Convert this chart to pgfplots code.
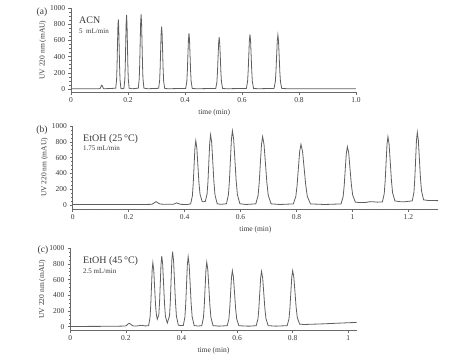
\documentclass[border=0pt]{standalone}
\usepackage{fontspec}
\setmainfont{Liberation Serif}
\usepackage{pgfplots}
\pgfplotsset{compat=1.18}
\definecolor{trace}{RGB}{95,95,95}
\definecolor{axc}{RGB}{105,105,105}
\definecolor{txt}{RGB}{55,55,55}
\pgfplotsset{chrom/.style={
  scale only axis, anchor=south west,
  axis lines=left, axis line style={-, axc, line width=0.7pt},
  tick style={axc, line width=0.5pt},
  tick align=outside, major tick length=2.8pt, minor tick length=1.5pt,
  minor y tick num=3,
  ytick={0,200,400,600,800,1000},
  /pgf/number format/assume math mode=true,
  /pgf/number format/set thousands separator={},
  ticklabel style={font=\fontsize{7.5}{8}\selectfont, text=txt},
  yticklabel style={xshift=0.5pt},
  xticklabel style={yshift=0.5pt},
  xlabel={time (min)}, ylabel={UV 220 nm (mAU)},
  label style={font=\fontsize{7.5}{9}\selectfont, text=txt},
  xlabel style={yshift=0.5pt},
  ylabel style={yshift=-3pt},
}}
\begin{document}
\begin{tikzpicture}[x=1pt,y=1pt]
\useasboundingbox (0,0) rectangle (474,358);
% ---------- (a)
\begin{axis}[chrom, at={(71pt,266pt)}, width=286.4pt, height=84pt,
  xmin=0, xmax=1.005, ymin=-37, ymax=1000,
  xtick={0,0.2,0.4,0.6,0.8,1.0}, xticklabels={0,0.2,0.4,0.6,0.8,1.0},
  minor xtick={0.05,0.1,...,1.0}]
\addplot[trace, line width=0.8pt, mark=none] coordinates {
(0,3)(0.05,3)(0.099,3)
(0.102,6.5)(0.1035,15.6)(0.105,29.1)(0.1065,42.4)(0.108,48)(0.1095,42.4)(0.111,29.1)(0.1125,15.6)(0.114,6.5)(0.117,3)
(0.157,9.5)(0.160,116)(0.1615,279)(0.163,522)(0.1645,759)(0.166,860)(0.1675,759)(0.169,522)(0.1705,279)(0.172,116)(0.175,9.5)
(0.18,3)
(0.186,10)(0.189,124)(0.1905,297)(0.192,555)(0.1935,807)(0.195,915)(0.1965,807)(0.198,555)(0.1995,297)(0.201,124)(0.204,10)
(0.215,3)
(0.2361,10)(0.2394,125)(0.24105,299)(0.2427,559)(0.24435,814)(0.246,922)(0.24765,814)(0.2493,559)(0.25095,299)(0.2526,125)(0.2559,10)
(0.27,3)
(0.3075,8.5)(0.311,104)(0.31275,250)(0.3145,467)(0.31625,680)(0.318,770)(0.31975,680)(0.3215,467)(0.32325,250)(0.325,104)(0.3285,8.5)
(0.34,3)
(0.4026,7.6)(0.4064,93)(0.4083,223)(0.4102,417)(0.4121,607)(0.414,688)(0.4159,607)(0.4178,417)(0.4197,223)(0.4216,93)(0.4254,7.6)
(0.44,3)
(0.508,7)(0.512,87)(0.514,208)(0.516,388)(0.518,565)(0.520,640)(0.522,565)(0.524,388)(0.526,208)(0.528,87)(0.532,7)
(0.545,3)
(0.6154,7.5)(0.6196,91)(0.6217,219)(0.6238,409)(0.6259,596)(0.628,675)(0.6301,596)(0.6322,409)(0.6343,219)(0.6364,91)(0.6406,7.5)
(0.655,3)
(0.7125,7.4)(0.717,90)(0.71925,216.5)(0.7215,404.5)(0.72375,589)(0.726,667)(0.72825,589)(0.7305,404.5)(0.73275,216.5)(0.735,90)(0.7395,7.4)
(0.76,3)(1.0,3)
};
\end{axis}
% ---------- (b)
\begin{axis}[chrom, at={(72.7pt,149pt)}, width=365.3pt, height=83pt,
  xmin=0, xmax=1.306, ymin=-51, ymax=1000,
  xtick={0,0.2,0.4,0.6,0.8,1,1.2}, xticklabels={0,0.2,0.4,0.6,0.8,1,1.2},
  minor xtick={0.05,0.1,...,1.3}]
\addplot[trace, line width=0.8pt, mark=none] coordinates {
(0,5)(0.25,6)(0.28,8)
(0.284,10)(0.291,26)(0.298,42)(0.305,26)(0.312,12)
(0.33,8)(0.36,8)
(0.366,18)(0.372,26)(0.378,18)(0.386,8)
(0.41,6)
(0.4217,14)(0.4278,114.5)(0.43085,268)(0.4339,496)(0.43695,719)(0.440,814)(0.4438,719)(0.4476,500)(0.4514,280)(0.4552,135)(0.4628,45)
(0.467,40)
(0.4741,45)(0.4804,140)(0.48355,292)(0.4867,542)(0.48985,786)(0.493,890)(0.49695,786)(0.5009,542)(0.50485,292)(0.5088,125)(0.5167,15)
(0.53,8)
(0.5497,15.4)(0.5568,131.5)(0.56035,308.6)(0.5639,572)(0.56745,830)(0.571,940)(0.57545,830)(0.5799,572)(0.58435,308.6)(0.5888,131.5)(0.5977,15.4)
(0.62,6)
(0.6547,14.5)(0.6628,121)(0.66685,284)(0.6709,527)(0.67495,764)(0.679,865)(0.68405,764)(0.6891,527)(0.69415,284)(0.6992,121)(0.7093,14.5)
(0.74,6)
(0.7887,13.5)(0.7978,108)(0.80235,253)(0.8069,468)(0.81145,678)(0.816,768)(0.8217,678)(0.8274,468)(0.8331,253)(0.8388,108)(0.8502,13.5)
(0.90,6)
(0.9592,13)(0.9668,104)(0.9706,243)(0.9744,450)(0.9782,652)(0.982,738)(0.98675,660)(0.9915,455)(0.99625,260)(1.001,125)(1.0105,35)
(1.03,30)(1.05,33)(1.063,42)(1.075,40)(1.09,36)
(1.1072,39)(1.1138,143)(1.1171,301)(1.1204,536)(1.1237,767)(1.127,865)(1.13115,769)(1.1353,545)(1.13945,313)(1.1436,155)(1.1519,51)
(1.17,42)(1.19,42)
(1.214,52)(1.220,161)(1.223,327)(1.226,574.5)(1.229,817)(1.232,920)(1.23575,819)(1.2395,583)(1.24325,341)(1.247,179)(1.2545,65)
(1.27,57)(1.306,55)
};
\end{axis}
% ---------- (c)
\begin{axis}[chrom, at={(70.3pt,28pt)}, width=286.3pt, height=81.8pt,
  xmin=0, xmax=1.03, ymin=-42, ymax=1000,
  xtick={0,0.2,0.4,0.6,0.8,1}, xticklabels={0,0.2,0.4,0.6,0.8,1},
  minor xtick={0.05,0.1,...,1.0}]
\addplot[trace, line width=0.8pt, mark=none] coordinates {
(0,3)(0.15,5)(0.19,8)
(0.197,9)(0.202,15)(0.207,32)(0.212,43)(0.217,32)(0.222,17)(0.227,10)
(0.24,10)(0.251,15)(0.257,18)(0.263,14)(0.27,10)
(0.2817,14)(0.2868,114.5)(0.28935,268)(0.2919,496)(0.29445,720)(0.297,815)(0.3002,720)(0.3034,500)(0.3066,280)(0.3098,150)(0.313,95)
(0.3184,150)(0.32105,310)(0.3237,548)(0.32635,795)(0.329,900)(0.3323,795)(0.3356,548)(0.3389,300)(0.3422,130)(0.349,47)
(0.357,140)(0.35975,313.5)(0.3625,581)(0.36525,843)(0.368,955)(0.37145,843)(0.3749,581)(0.37835,313.5)(0.3818,134)(0.3887,20)
(0.395,15)
(0.4066,15)(0.4124,125)(0.4153,293)(0.4182,543)(0.4211,788)(0.424,892)(0.4276,788)(0.4312,543)(0.4348,293)(0.4384,125)(0.4456,15)
(0.46,8)
(0.473,14)(0.479,115)(0.482,270)(0.485,499)(0.488,724)(0.491,820)(0.49475,724)(0.4985,499)(0.50225,270)(0.506,115)(0.5135,14)
(0.535,7)
(0.5644,13)(0.5706,101)(0.5737,235)(0.5768,434)(0.5799,630)(0.583,713)(0.5869,630)(0.5908,434)(0.5947,235)(0.5986,101)(0.6064,13)
(0.63,8)(0.645,7)
(0.6688,13)(0.6752,100)(0.6784,232)(0.6816,430)(0.6848,623)(0.688,705)(0.692,623)(0.696,430)(0.700,232)(0.704,100)(0.712,13)
(0.74,7)
(0.7802,13)(0.7868,101)(0.7901,235)(0.7934,434)(0.7967,630)(0.800,713)(0.80415,632)(0.8083,440)(0.81245,247)(0.8166,118)(0.8249,33)
(0.84,28)(0.9,35)(1.03,55)
};
\end{axis}
% ---------- annotations
\begin{scope}[every node/.style={text=txt, inner sep=0pt}]
\node[font=\fontsize{9.5}{11}\selectfont] at (42,346) {(a)};
\node[anchor=west, font=\fontsize{10}{12}\selectfont] at (79,337.3) {ACN};
\node[anchor=west, font=\fontsize{7}{8}\selectfont] at (79,327) {5\ \ mL/min};
\node[font=\fontsize{9.5}{11}\selectfont] at (42,228) {(b)};
\node[anchor=west, font=\fontsize{10}{12}\selectfont] at (83,219) {EtOH (25\,°C)};
\node[anchor=west, font=\fontsize{7}{8}\selectfont] at (83,209.7) {1.75 mL/min};
\node[font=\fontsize{9.5}{11}\selectfont] at (43,107.3) {(c)};
\node[anchor=west, font=\fontsize{10}{12}\selectfont] at (83,97) {EtOH (45\,°C)};
\node[anchor=west, font=\fontsize{7}{8}\selectfont] at (83,87) {2.5 mL/min};
\end{scope}
\end{tikzpicture}
\end{document}
